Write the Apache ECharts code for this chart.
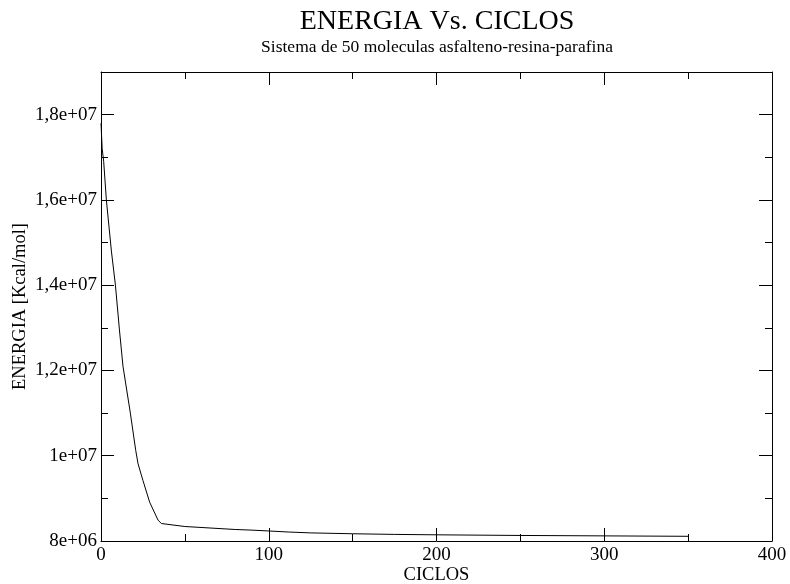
<!DOCTYPE html>
<html>
<head>
<meta charset="utf-8">
<script src="https://cdn.jsdelivr.net/npm/echarts@6/dist/echarts.min.js"></script>
<style>
  html, body { margin: 0; padding: 0; background: #fff; }
  #chart { width: 790px; height: 584px; }
</style>
</head>
<body>
<div id="chart"></div>
<script>
// ciclos (x) y energia (y)
var ciclos = [0, 0.7, 1.6, 3.2, 6.2, 8.6, 11, 13.1, 17.5, 20.7, 22.1, 25, 29, 34, 36,
              50, 80, 90, 100, 112, 125, 150, 175, 200, 250, 300, 350];
var energia = [1.78e7, 1.72e7, 1.69e7, 1.60e7, 1.48e7, 1.40e7, 1.295e7, 1.21e7, 1.10e7, 1.0125e7, 9.81e6, 9.42e6, 8.91e6, 8.49e6, 8.41e6,
               8.34e6, 8.27e6, 8.255e6, 8.235e6, 8.21e6, 8.19e6, 8.17e6, 8.155e6, 8.145e6, 8.13e6, 8.12e6, 8.11e6];
var xTicks = [0, 100, 200, 300, 400];
var yTicks = [8e6, 1e7, 1.2e7, 1.4e7, 1.6e7, 1.8e7];

var fuente = 'Liberation Serif';

function fmtSci(v) {
    if (yTicks.indexOf(v) < 0) return '';
    var e = Math.floor(Math.log10(v));
    var m = parseFloat((v / Math.pow(10, e)).toFixed(3));
    return String(m).replace('.', ',') + 'e+' + (e < 10 ? '0' + e : e);
}

var lineaEje = {show: true, onZero: false, lineStyle: {color: '#000', width: 1}};
var tick = {show: true, inside: true, length: 13, lineStyle: {color: '#000', width: 1}};
var minor = {show: true, splitNumber: 2, length: 7, lineStyle: {color: '#000', width: 1}};

var myChart = echarts.init(document.getElementById('chart'), null, {renderer: 'canvas'});
var option = {
    backgroundColor: '#fff',
    animation: false,
    textStyle: {fontFamily: fuente},
    title: {
        text: 'ENERGIA Vs. CICLOS',
        subtext: 'Sistema de 50 moleculas asfalteno-resina-parafina',
        left: 437,
        top: 8,
        padding: 0,
        textAlign: 'center',
        itemGap: 2,
        textStyle: {fontFamily: fuente, fontSize: 28, fontWeight: 'normal', color: '#000'},
        subtextStyle: {fontFamily: fuente, fontSize: 17.5, color: '#000'}
    },
    grid: {left: 101, right: 18, top: 72, bottom: 43, containLabel: false, outerBoundsMode: 'none'},
    xAxis: [{
        type: 'value', min: 0, max: 400, interval: 100,
        position: 'bottom',
        name: 'CICLOS', nameLocation: 'middle', nameGap: 25, nameMoveOverlap: false,
        nameTextStyle: {fontFamily: fuente, fontSize: 18.5, color: '#000'},
        axisLine: lineaEje, axisTick: tick, minorTick: minor,
        splitLine: {show: false},
        axisLabel: {fontFamily: fuente, fontSize: 19, color: '#000', margin: 5,
            formatter: function (v) { return xTicks.indexOf(v) < 0 ? '' : String(v); }}
    }, {
        type: 'value', min: 0, max: 400, interval: 100,
        position: 'top',
        axisLine: lineaEje, axisTick: tick, minorTick: minor,
        splitLine: {show: false}, axisLabel: {show: false}
    }],
    yAxis: [{
        type: 'value', min: 8e6, max: 1.9e7, interval: 2e6,
        position: 'left',
        name: 'ENERGIA [Kcal/mol]', nameLocation: 'middle', nameGap: 71, nameMoveOverlap: false,
        nameTextStyle: {fontFamily: fuente, fontSize: 18.5, color: '#000'},
        axisLine: lineaEje, axisTick: tick, minorTick: minor,
        splitLine: {show: false},
        axisLabel: {fontFamily: fuente, fontSize: 19, color: '#000', margin: 4,
            showMaxLabel: false, formatter: fmtSci}
    }, {
        type: 'value', min: 8e6, max: 1.9e7, interval: 2e6,
        position: 'right',
        axisLine: lineaEje, axisTick: tick, minorTick: minor,
        splitLine: {show: false}, axisLabel: {show: false}
    }],
    series: []
};

option.series.push({
    type: 'line',
    xAxisIndex: 0,
    yAxisIndex: 0,
    showSymbol: false,
    symbol: 'none',
    lineStyle: {color: '#000', width: 1},
    data: ciclos.map(function (c, i) { return [c, energia[i]]; })
});

myChart.setOption(option);
</script>
</body>
</html>
